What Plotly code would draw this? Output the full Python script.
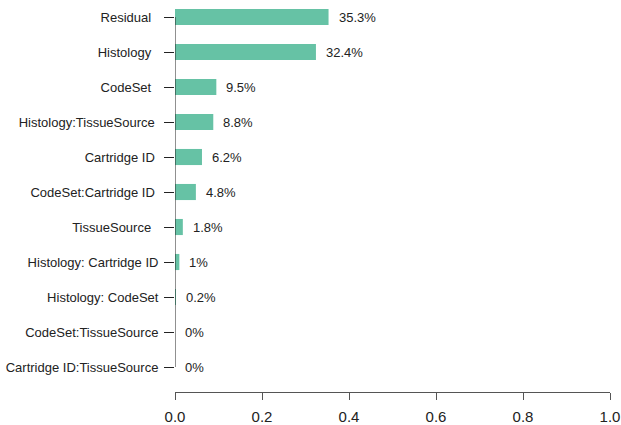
import plotly.graph_objects as go

# Variance components, top to bottom
categories = [
    "Residual", "Histology", "CodeSet", "Histology:TissueSource",
    "Cartridge ID", "CodeSet:Cartridge ID", "TissueSource",
    "Histology: Cartridge ID", "Histology: CodeSet",
    "CodeSet:TissueSource", "Cartridge ID:TissueSource",
]
values = [0.353, 0.324, 0.095, 0.088, 0.062, 0.048, 0.018, 0.010, 0.002, 0.0, 0.0]
# trailing padding (non-breaking spaces) used by the original axis labels
label_pad = [2, 2, 2, 1, 1, 1, 2, 0, 0, 0, 0]

x_ticks = [0.0, 0.2, 0.4, 0.6, 0.8, 1.0]
x_ticktext = ["0.0", "0.2", "0.4", "0.6", "0.8", "1.0"]

BAR = "#66C2A5"
INK = "#222222"
FONT = "Liberation Sans, Arial, Helvetica, sans-serif"

ypos = list(range(len(categories)))
ticktext = [c + "\u00a0" * p for c, p in zip(categories, label_pad)]


def pct(v):
    return f"{round(v * 100, 1):g}%"


fig = go.Figure()
fig.add_bar(
    x=values, y=ypos, orientation="h", width=0.46,
    marker=dict(color=BAR, line=dict(width=0)),
    hoverinfo="skip",
)

for v, y in zip(values, ypos):
    fig.add_annotation(
        x=v, y=y, text=pct(v), showarrow=False, xanchor="left",
        xshift=8, font=dict(size=13, color=INK, family=FONT),
    )

# left axis line spans from first to last category
fig.add_shape(
    type="line", xref="x", yref="y", x0=0, x1=0, y0=ypos[0], y1=ypos[-1],
    line=dict(color="#222222", width=1),
)

fig.update_layout(
    width=621, height=425,
    margin=dict(l=175, r=11, t=0, b=33),
    paper_bgcolor="white", plot_bgcolor="white",
    showlegend=False,
    font=dict(family=FONT, color=INK),
    xaxis=dict(
        range=[0, 1], tickvals=x_ticks, ticktext=x_ticktext,
        ticks="outside", ticklen=7, tickcolor="#555555", tickwidth=1,
        showline=True, linecolor="#555555", linewidth=1,
        showgrid=False, zeroline=False, ticklabelstandoff=4,
        tickfont=dict(size=15, color=INK, family=FONT),
    ),
    yaxis=dict(
        range=[10.714, -0.486], tickvals=ypos, ticktext=ticktext,
        ticks="outside", ticklen=10, tickcolor="#222222", tickwidth=1,
        showline=False, showgrid=False, zeroline=False, ticklabelstandoff=3,
        tickfont=dict(size=13, color=INK, family=FONT),
    ),
)

fig.write_html("out.html")
